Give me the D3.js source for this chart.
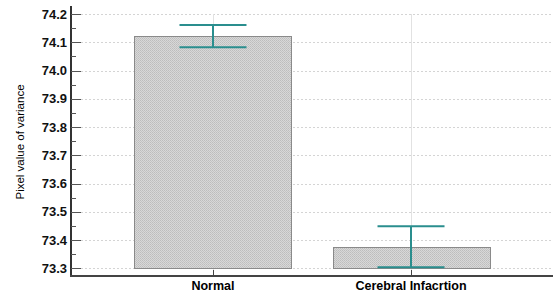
<!DOCTYPE html>
<html>
<head>
<meta charset="utf-8">
<script src="https://cdn.jsdelivr.net/npm/d3@7"></script>
<style>
  body { margin: 0; background: #fff; }
  svg { display: block; font-family: "Liberation Sans", Arial, sans-serif; }
</style>
</head>
<body>
<div id="chart"></div>
<script>
// chart values
var categories = ["Normal", "Cerebral Infacrtion"];
var means = [74.122, 73.376];
var upperErr = [74.161, 73.449];
var lowerErr = [74.082, 73.304];
var yTicks = [73.3, 73.4, 73.5, 73.6, 73.7, 73.8, 73.9, 74.0, 74.1, 74.2];
var baseValue = 73.3;

var width = 553, height = 292;
// plot box (note: "top" is reserved on window, so use plot* names)
var plotLeft = 71, plotRight = 553, plotTop = 6, plotBottom = 276;

var svg = d3.select("#chart").append("svg")
    .attr("width", width)
    .attr("height", height);

// fine hatch pattern for the bars
var defs = svg.append("defs");
var pat = defs.append("pattern")
    .attr("id", "hatch")
    .attr("patternUnits", "userSpaceOnUse")
    .attr("width", 2)
    .attr("height", 2);
pat.append("rect").attr("width", 2).attr("height", 2).attr("fill", "#d8d8d8");
pat.append("rect").attr("width", 1).attr("height", 1).attr("fill", "#bdbdbd");
pat.append("rect").attr("x", 1).attr("y", 1).attr("width", 1).attr("height", 1).attr("fill", "#c4c4c4");

var y = d3.scaleLinear()
    .domain([73.2727, 74.2284])
    .range([plotBottom, plotTop]);

var x = d3.scalePoint()
    .domain(categories)
    .range([plotLeft, plotRight])
    .padding(0.717);

var barW = 157, capW = 67;

// horizontal grid
svg.append("g")
  .selectAll("line")
  .data(yTicks)
  .enter().append("line")
    .attr("x1", plotLeft + 10)
    .attr("x2", plotRight)
    .attr("y1", function(d) { return Math.round(y(d)) + 0.5; })
    .attr("y2", function(d) { return Math.round(y(d)) + 0.5; })
    .attr("stroke", "#d4d4d4")
    .attr("stroke-dasharray", "2,2");

// vertical grid at categories
svg.append("g")
  .selectAll("line")
  .data(categories)
  .enter().append("line")
    .attr("x1", function(d) { return Math.round(x(d)) + 0.5; })
    .attr("x2", function(d) { return Math.round(x(d)) + 0.5; })
    .attr("y1", y(74.2))
    .attr("y2", plotBottom)
    .attr("stroke", "#e2e2e2");

// bars
svg.append("g")
  .selectAll("rect")
  .data(categories)
  .enter().append("rect")
    .attr("x", function(d) { return Math.round(x(d) - barW / 2) + 0.5; })
    .attr("width", barW)
    .attr("y", function(d, i) { return Math.round(y(means[i])) + 0.5; })
    .attr("height", function(d, i) { return Math.round(y(baseValue)) - Math.round(y(means[i])); })
    .attr("fill", "url(#hatch)")
    .attr("stroke", "#8a8a8a")
    .attr("stroke-width", 1);

// error bars
var err = svg.append("g")
  .selectAll("g")
  .data(categories)
  .enter().append("g")
    .attr("stroke", "#2a8e8e")
    .attr("stroke-width", 2);

err.append("line")
    .attr("x1", function(d) { return x(d); })
    .attr("x2", function(d) { return x(d); })
    .attr("y1", function(d, i) { return y(upperErr[i]); })
    .attr("y2", function(d, i) { return y(lowerErr[i]); });
err.append("line")
    .attr("x1", function(d) { return x(d) - capW / 2; })
    .attr("x2", function(d) { return x(d) + capW / 2; })
    .attr("y1", function(d, i) { return y(upperErr[i]); })
    .attr("y2", function(d, i) { return y(upperErr[i]); });
err.append("line")
    .attr("x1", function(d) { return x(d) - capW / 2; })
    .attr("x2", function(d) { return x(d) + capW / 2; })
    .attr("y1", function(d, i) { return y(lowerErr[i]); })
    .attr("y2", function(d, i) { return y(lowerErr[i]); });

// y axis
var yAxis = svg.append("g")
    .attr("transform", "translate(" + plotLeft + ",0)");
yAxis.append("line")
    .attr("x1", 0).attr("x2", 0)
    .attr("y1", plotTop).attr("y2", plotBottom)
    .attr("stroke", "#333")
    .attr("stroke-width", 2);
yAxis.selectAll(".major")
    .data(yTicks)
  .enter().append("line")
    .attr("x1", 0).attr("x2", 10)
    .attr("y1", function(d) { return Math.round(y(d)) + 0.5; })
    .attr("y2", function(d) { return Math.round(y(d)) + 0.5; })
    .attr("stroke", "#555");
yAxis.selectAll(".minor")
    .data(yTicks.slice(0, -1))
  .enter().append("line")
    .attr("x1", 0).attr("x2", 5)
    .attr("y1", function(d) { return Math.round(y(d + 0.05)) + 0.5; })
    .attr("y2", function(d) { return Math.round(y(d + 0.05)) + 0.5; })
    .attr("stroke", "#555");
yAxis.selectAll("text")
    .data(yTicks)
  .enter().append("text")
    .attr("x", -4)
    .attr("y", function(d) { return y(d); })
    .attr("dy", "0.35em")
    .attr("text-anchor", "end")
    .attr("font-size", 13)
    .attr("font-weight", "bold")
    .attr("fill", "#111")
    .text(d3.format(".1f"));

// x axis
var xAxis = svg.append("g");
xAxis.append("line")
    .attr("x1", plotLeft - 1).attr("x2", plotRight)
    .attr("y1", plotBottom).attr("y2", plotBottom)
    .attr("stroke", "#444")
    .attr("stroke-width", 2);
xAxis.selectAll(".tick")
    .data(categories)
  .enter().append("line")
    .attr("x1", function(d) { return Math.round(x(d)) + 0.5; })
    .attr("x2", function(d) { return Math.round(x(d)) + 0.5; })
    .attr("y1", plotBottom - 6)
    .attr("y2", plotBottom)
    .attr("stroke", "#444");
xAxis.selectAll("text")
    .data(categories)
  .enter().append("text")
    .attr("x", function(d) { return x(d); })
    .attr("y", 290)
    .attr("text-anchor", "middle")
    .attr("font-size", 12.5)
    .attr("font-weight", "bold")
    .attr("fill", "#000")
    .text(function(d) { return d; });

// y title
svg.append("text")
    .attr("transform", "translate(24,142) rotate(-90)")
    .attr("text-anchor", "middle")
    .attr("font-size", 11.5)
    .attr("fill", "#000")
    .text("Pixel value of variance");
</script>
</body>
</html>
